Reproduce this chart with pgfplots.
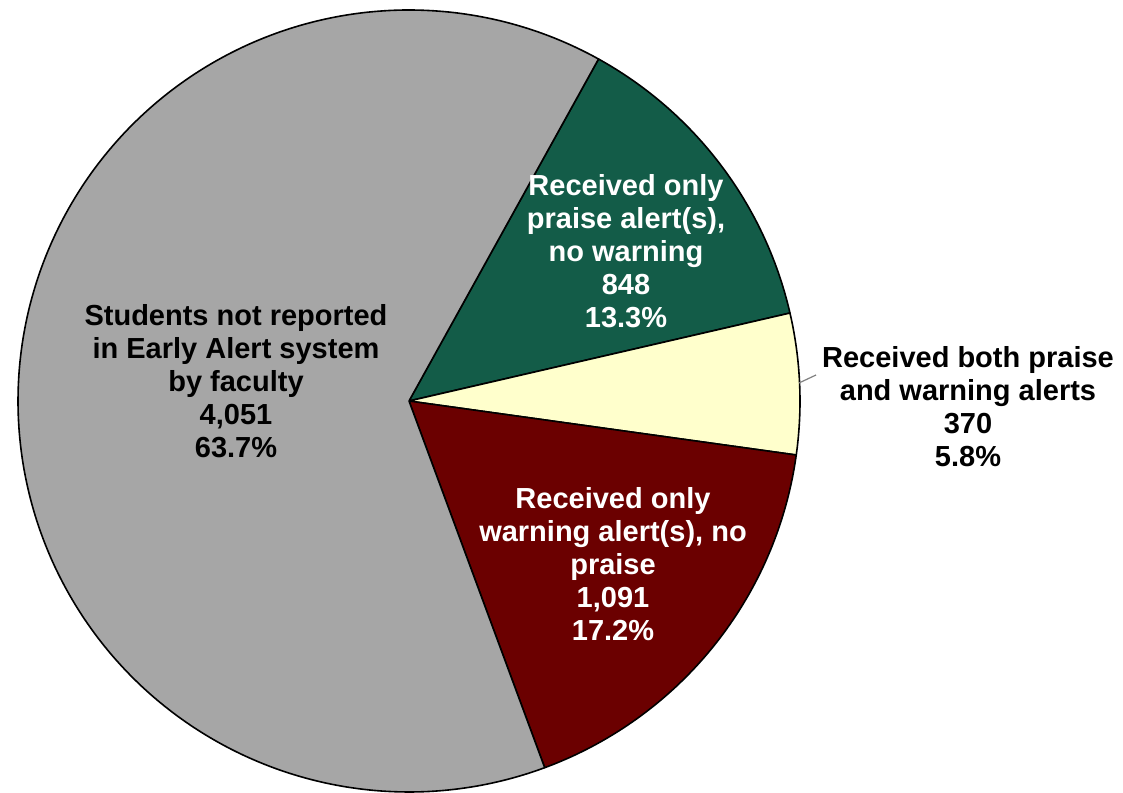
\documentclass[border=0pt]{standalone}
\usepackage{pgfplots}
\pgfplotsset{compat=1.18}
\usepackage{fontspec}
\setmainfont{Liberation Sans}
\definecolor{cgray}{HTML}{A6A6A6}
\definecolor{cgreen}{HTML}{135C48}
\definecolor{cyellow}{HTML}{FFFFCC}
\definecolor{cred}{HTML}{6B0000}
\begin{document}
\begin{tikzpicture}
% counts: praise only, both, warning only, not reported
\pgfmathsetmacro{\vA}{848}
\pgfmathsetmacro{\vB}{370}
\pgfmathsetmacro{\vC}{1091}
\pgfmathsetmacro{\vD}{4051}
\pgfmathsetmacro{\tot}{\vA+\vB+\vC+\vD}
\pgfmathsetmacro{\sA}{61}
\pgfmathsetmacro{\sB}{\sA-\vA/\tot*360}
\pgfmathsetmacro{\sC}{\sB-\vB/\tot*360}
\pgfmathsetmacro{\sD}{\sC-\vC/\tot*360}
\pgfmathsetmacro{\sE}{\sD-\vD/\tot*360}
\def\cx{409}\def\cy{391}\def\R{391}
\begin{axis}[
  scale only axis, width=561.5pt, height=396pt,
  xmin=0, xmax=1123, ymin=0, ymax=792,
  hide axis, clip=false,
  every axis plot/.append style={line width=0.8pt, line join=round},
]
\path (axis cs:0,0) rectangle (axis cs:1123,792);
\addplot[draw=black, fill=cgreen, domain=\sB:\sA, samples=80, smooth]
  ({\cx+\R*cos(x)},{\cy+\R*sin(x)}) -- (axis cs:\cx,\cy) -- cycle;
\addplot[draw=black, fill=cyellow, domain=\sC:\sB, samples=40, smooth]
  ({\cx+\R*cos(x)},{\cy+\R*sin(x)}) -- (axis cs:\cx,\cy) -- cycle;
\addplot[draw=black, fill=cred, domain=\sD:\sC, samples=80, smooth]
  ({\cx+\R*cos(x)},{\cy+\R*sin(x)}) -- (axis cs:\cx,\cy) -- cycle;
\addplot[draw=black, fill=cgray, domain=\sE:\sD, samples=200, smooth]
  ({\cx+\R*cos(x)},{\cy+\R*sin(x)}) -- (axis cs:\cx,\cy) -- cycle;
\addplot[draw=gray, line width=0.6pt] coordinates {(799,409) (816,417)};
\begin{scope}[every node/.style={align=center, font=\bfseries\fontsize{14.5pt}{16.5pt}\selectfont}]
\node at (axis cs:236,411) {Students not reported\\in Early Alert system\\by faculty\\4,051\\63.7\%};
\node[text=white] at (axis cs:626,541) {Received only\\praise alert(s),\\no warning\\848\\13.3\%};
\node at (axis cs:968,385) {Received both praise\\and warning alerts\\370\\5.8\%};
\node[text=white] at (axis cs:613,228) {Received only\\warning alert(s), no\\praise\\1,091\\17.2\%};
\end{scope}
\end{axis}
\end{tikzpicture}
\end{document}
